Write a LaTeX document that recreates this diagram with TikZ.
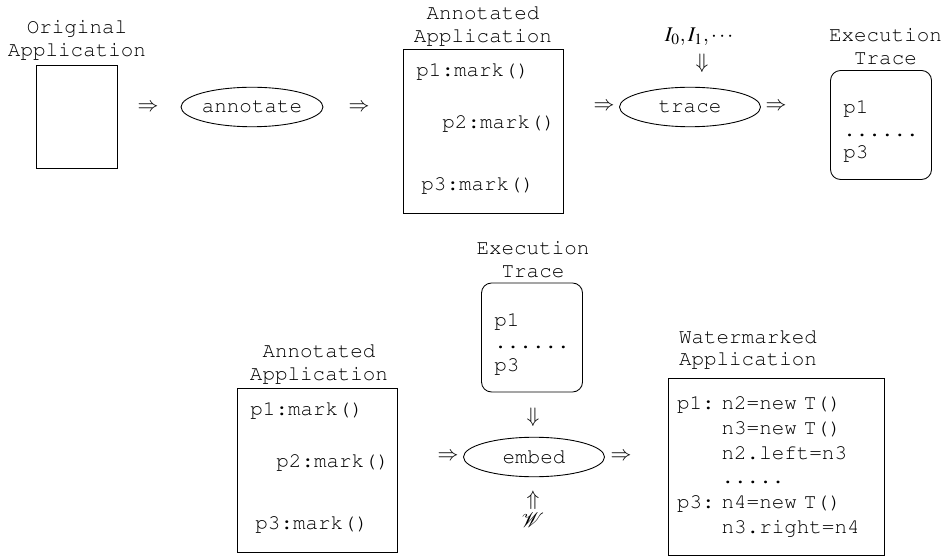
\documentclass[tikz,border=0pt]{standalone}
\usepackage[T1]{fontenc}
\usepackage{mathptmx}
\usepackage{courier}
\usepackage{tikz}
\usetikzlibrary{shapes.geometric}

\tikzset{
  prog/.style={draw,rectangle,minimum width=3.2cm,minimum height=3.28cm},
  tracebox/.style={draw,rectangle,rounded corners=0.2cm,minimum width=2.02cm,minimum height=2.18cm},
  proc/.style={draw,ellipse,inner sep=0pt,minimum width=2.82cm,minimum height=0.79cm},
  lbl/.style={align=center,inner sep=0pt},
  code/.style={anchor=west,inner sep=0pt},
  sym/.style={inner sep=0pt}
}

\begin{document}
\begin{tikzpicture}[every node/.style={font=\fontsize{11.9pt}{12.8pt}\selectfont\ttfamily},line width=0.5pt]
\useasboundingbox (0,0) rectangle (18.94,11.14);
% first step: annotate, then trace
\node [lbl] (origlbl) at (1.54,10.34) {Original\\Application};
\node [draw,rectangle,minimum width=1.62cm,minimum height=2.06cm] (orig) at (1.53,8.81) {};
\node [sym] (r1) at (2.96,8.98) {$\Rightarrow$};
\node [proc] (annot) at (5.04,9.00) {annotate};
\node [sym] (r2) at (7.18,8.98) {$\Rightarrow$};
\node [lbl] (annlbl) at (9.66,10.62) {Annotated\\Application};
\node [prog] (ann) at (9.66,8.52) {};
\node [code] (am1) at (8.32,9.72) {p1:mark()};
\node [code] (am2) at (8.84,8.68) {p2:mark()};
\node [code] (am3) at (8.42,7.44) {p3:mark()};
\node [sym] (r3) at (12.08,9.00) {$\Rightarrow$};
\node [proc] (trace) at (13.80,9.00) {trace};
\node [sym] (inp) at (13.98,10.40) {$I_0,I_1,\cdots$};
\node [sym] (d1) at (14.04,9.88) {$\Downarrow$};
\node [sym] (r4) at (15.52,9.00) {$\Rightarrow$};
\node [lbl] (trlbl) at (17.71,10.21) {Execution\\Trace};
\node [tracebox] (tr) at (17.62,8.64) {};
\node [align=left] (trtxt) at (17.62,8.52) {p1\\......\\p3};

% second step: embed
\node [lbl] (tr2lbl) at (10.66,5.95) {Execution\\Trace};
\node [tracebox] (tr2) at (10.64,4.39) {};
\node [align=left] (tr2txt) at (10.64,4.27) {p1\\......\\p3};
\node [sym] (d2) at (10.66,2.80) {$\Downarrow$};
\node [lbl] (ann2lbl) at (6.38,3.86) {Annotated\\Application};
\node [prog] (ann2) at (6.34,1.74) {};
\node [code] (bm1) at (5.00,2.94) {p1:mark()};
\node [code] (bm2) at (5.52,1.90) {p2:mark()};
\node [code] (bm3) at (5.10,0.66) {p3:mark()};
\node [sym] (r5) at (8.96,2.00) {$\Rightarrow$};
\node [proc] (embed) at (10.68,2.00) {embed};
\node [sym] (r6) at (12.42,2.00) {$\Rightarrow$};
\node [sym] (u1) at (10.66,1.14) {$\Uparrow$};
\node [sym] (wmk) at (10.66,0.74) {$\mathcal{W}$};
\node [lbl] (wmlbl) at (14.96,4.15) {Watermarked\\Application};
\node [draw,rectangle,align=left,text width=3.96cm,inner xsep=0.18cm,minimum height=3.54cm,font=\fontsize{11.9pt}{14.2pt}\selectfont\ttfamily] (wmapp) at (15.52,1.81) {%
\begin{tabular}{@{}l@{\ }l@{}}
p1: & n2=new T()\\
    & n3=new T()\\
    & n2.left=n3\\
    & .....\\
p3: & n4=new T()\\
    & n3.right=n4
\end{tabular}};
\end{tikzpicture}
\end{document}
